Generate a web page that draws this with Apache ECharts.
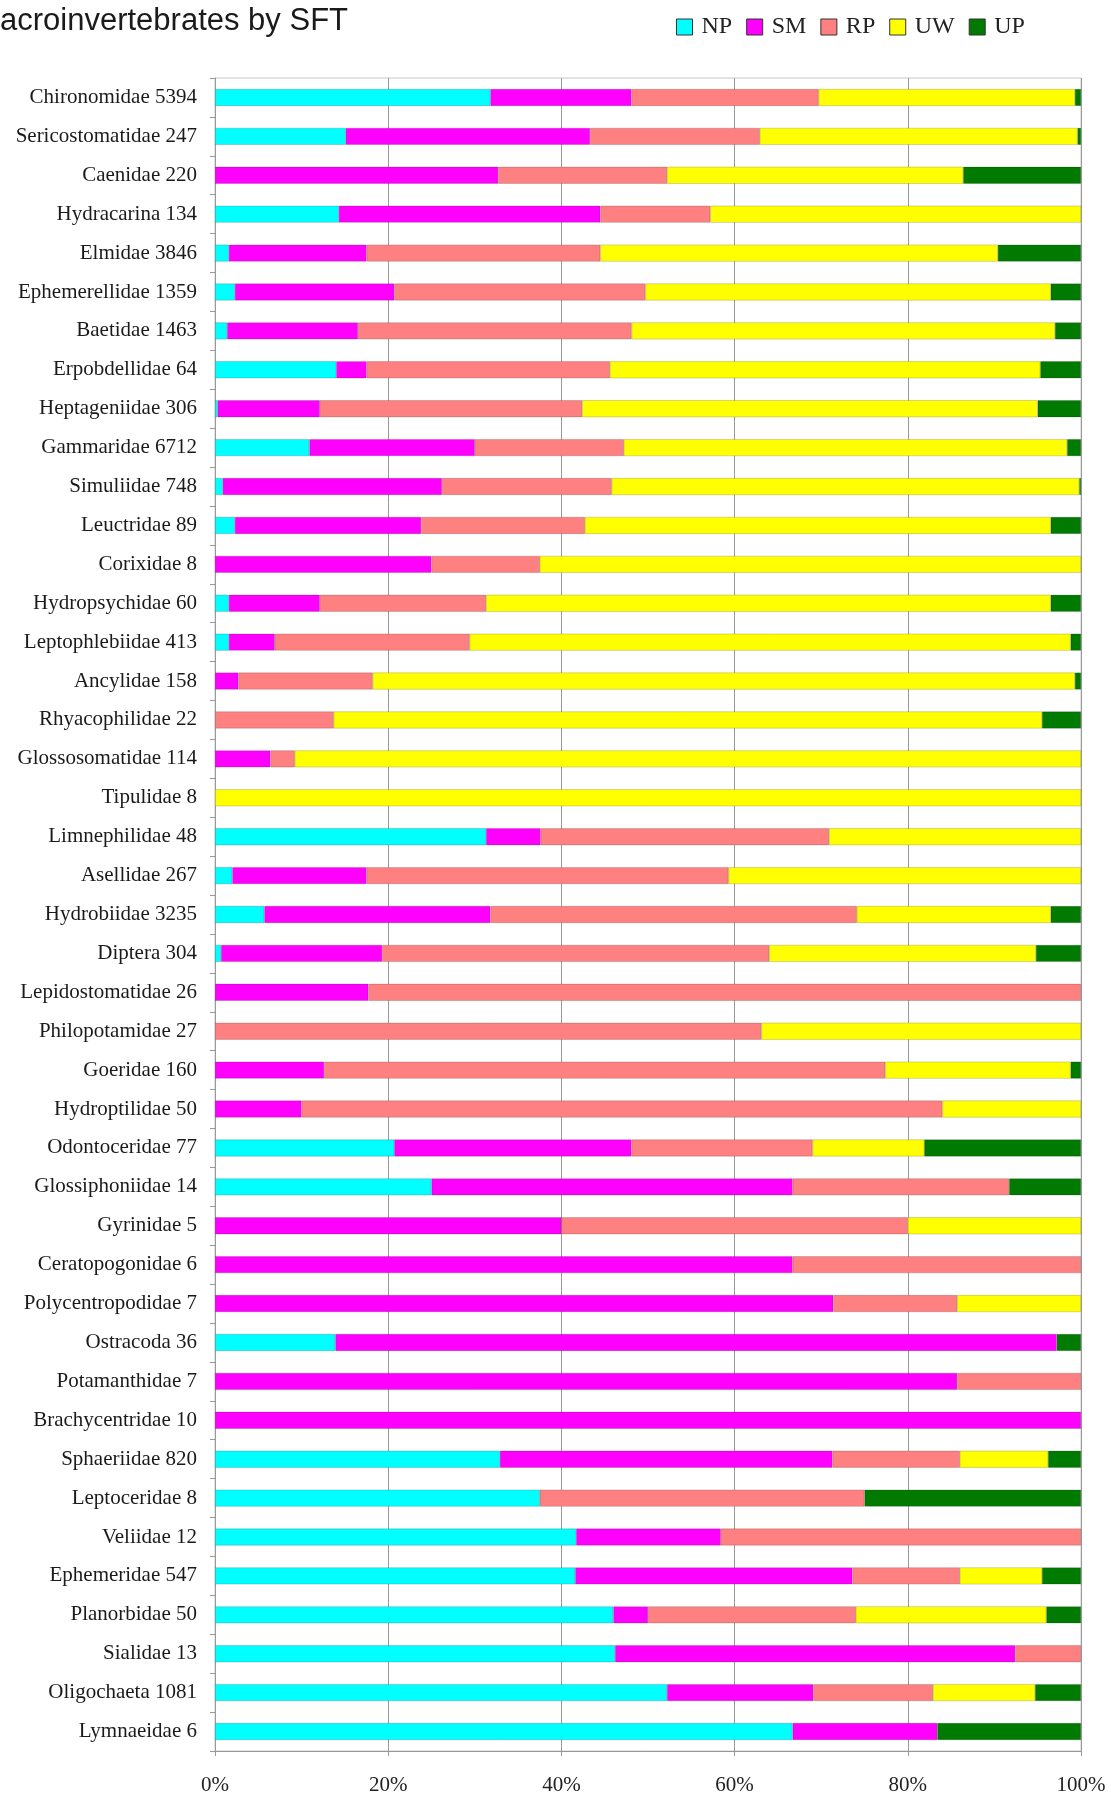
<!DOCTYPE html>
<html>
<head>
<meta charset="utf-8">
<script src="https://cdn.jsdelivr.net/npm/echarts@6/dist/echarts.min.js"></script>
<style>
  html, body { margin: 0; padding: 0; background: #fff; }
  #chart { width: 1111px; height: 1796px; }
</style>
</head>
<body>
<div id="chart"></div>
<script>
// families, top to bottom (name + number of individuals)
const families = [
  "Chironomidae 5394", "Sericostomatidae 247", "Caenidae 220", "Hydracarina 134",
  "Elmidae 3846", "Ephemerellidae 1359", "Baetidae 1463", "Erpobdellidae 64",
  "Heptageniidae 306", "Gammaridae 6712", "Simuliidae 748", "Leuctridae 89",
  "Corixidae 8", "Hydropsychidae 60", "Leptophlebiidae 413", "Ancylidae 158",
  "Rhyacophilidae 22", "Glossosomatidae 114", "Tipulidae 8", "Limnephilidae 48",
  "Asellidae 267", "Hydrobiidae 3235", "Diptera 304", "Lepidostomatidae 26",
  "Philopotamidae 27", "Goeridae 160", "Hydroptilidae 50", "Odontoceridae 77",
  "Glossiphoniidae 14", "Gyrinidae 5", "Ceratopogonidae 6", "Polycentropodidae 7",
  "Ostracoda 36", "Potamanthidae 7", "Brachycentridae 10", "Sphaeriidae 820",
  "Leptoceridae 8", "Veliidae 12", "Ephemeridae 547", "Planorbidae 50",
  "Sialidae 13", "Oligochaeta 1081", "Lymnaeidae 6"
];

// percentage of individuals per flow type (same order as families)
const NP = [31.8, 15.1, 0, 14.3, 1.6, 2.3, 1.4, 14.0, 0.3, 10.9, 0.9, 2.3, 0,
  1.6, 1.6, 0, 0, 0, 0, 31.3, 2.0, 5.7, 0.7, 0, 0, 0, 0, 20.7, 25, 0, 0, 0,
  13.9, 0, 0, 32.9, 37.5, 41.7, 41.6, 46, 46.2, 52.2, 66.7];
const SM = [16.3, 28.2, 32.7, 30.2, 15.9, 18.4, 15.1, 3.5, 11.8, 19.1, 25.3, 21.5, 25,
  10.5, 5.3, 2.7, 0, 6.4, 0, 6.3, 15.5, 26.1, 18.6, 17.7, 0, 12.6, 10, 27.4, 41.7, 40, 66.7, 71.4,
  83.3, 85.7, 100, 38.4, 0, 16.7, 32.0, 4, 46.2, 16.9, 16.7];
const RP = [21.6, 19.6, 19.5, 12.7, 27.0, 29.0, 31.6, 28.1, 30.3, 17.2, 19.6, 18.9, 12.5,
  19.2, 22.5, 15.5, 13.7, 2.8, 0, 33.3, 41.8, 42.3, 44.7, 82.3, 63.1, 64.8, 74, 20.9, 25, 40, 33.3, 14.3,
  0, 14.3, 0, 14.7, 37.5, 41.6, 12.4, 24, 7.6, 13.8, 0];
const UW = [29.6, 36.7, 34.2, 42.8, 45.9, 46.8, 48.9, 49.7, 52.6, 51.2, 54.0, 53.8, 62.5,
  65.2, 69.4, 81.1, 81.8, 90.8, 100, 29.1, 40.7, 22.4, 30.8, 0, 36.9, 21.4, 16, 12.9, 0, 20, 0, 14.3,
  0, 0, 0, 10.2, 0, 0, 9.5, 22, 0, 11.8, 0];
const UP = [0.7, 0.4, 13.6, 0, 9.6, 3.5, 3.0, 4.7, 5.0, 1.6, 0.2, 3.5, 0,
  3.5, 1.2, 0.7, 4.5, 0, 0, 0, 0, 3.5, 5.2, 0, 0, 1.2, 0, 18.1, 8.3, 0, 0, 0,
  2.8, 0, 0, 3.8, 25, 0, 4.5, 4, 0, 5.3, 16.6];

const seriesNames = ["NP", "SM", "RP", "UW", "UP"];
const seriesValues = [NP, SM, RP, UW, UP];
const seriesColors = ["#00ffff", "#ff00ff", "#ff8080", "#ffff00", "#007a00"];

const chart = echarts.init(document.getElementById("chart"));

const option = {
  backgroundColor: "#fff",
  animation: false,
  title: {
    text: "acroinvertebrates by SFT",
    left: 0,
    top: 6,
    padding: 0,
    textStyle: {
      fontFamily: "Liberation Sans",
      fontSize: 31,
      fontWeight: "normal",
      color: "#1a1a1a",
    },
  },
  legend: {
    data: seriesNames,
    left: 676,
    top: 15,
    padding: 0,
    itemWidth: 16,
    itemHeight: 16,
    itemGap: 14,
    icon: "rect",
    itemStyle: { borderColor: "#333", borderWidth: 1 },
    textStyle: {
      fontFamily: "Liberation Serif",
      fontSize: 24,
      color: "#222",
      padding: [0, 0, 0, 4],
    },
  },
  grid: {
    left: 215,
    right: 30,
    top: 78,
    bottom: 40,
    show: true,
    borderColor: "#c8c8c8",
    borderWidth: 1,
    backgroundColor: "transparent",
  },
  xAxis: {
    type: "value",
    min: 0,
    max: 100,
    interval: 20,
    axisLine: { show: true, lineStyle: { color: "#999", width: 1 } },
    axisTick: { show: true, length: 5, lineStyle: { color: "#999" } },
    splitLine: { show: true, lineStyle: { color: "#999", width: 1 } },
    axisLabel: {
      formatter: "{value}%",
      margin: 24,
      fontFamily: "Liberation Serif",
      fontSize: 21,
      color: "#222",
    },
  },
  yAxis: {
    type: "category",
    inverse: true,
    data: families,
    axisLine: { show: true, lineStyle: { color: "#999", width: 1 } },
    axisTick: { show: true, length: 5, alignWithLabel: false, lineStyle: { color: "#999" } },
    splitLine: { show: false },
    axisLabel: {
      interval: 0,
      margin: 18,
      fontFamily: "Liberation Serif",
      fontSize: 21,
      color: "#1a1a1a",
    },
  },
  series: seriesNames.map((name, i) => ({
    name: name,
    type: "bar",
    stack: "total",
    barWidth: 17,
    // zero shares are left out so their borders do not show as slivers
    data: seriesValues[i].map((v) => (v === 0 ? "-" : v)),
    itemStyle: {
      color: seriesColors[i],
      borderColor: "rgba(0,0,0,0.28)",
      borderWidth: 0.6,
    },
  })),
};

chart.setOption(option);
</script>
</body>
</html>
